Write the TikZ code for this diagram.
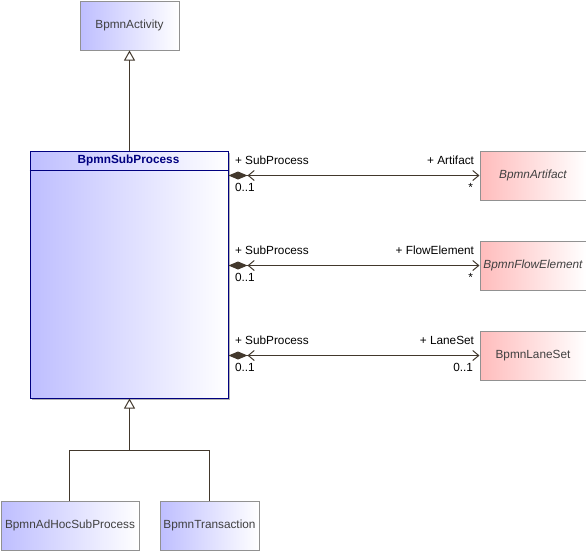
\documentclass[tikz,border=0pt]{standalone}
\usepackage{fontspec}
\setmainfont{Liberation Sans}
\usetikzlibrary{arrows.meta}
\definecolor{cblue}{RGB}{190,190,255}
\definecolor{cred}{RGB}{255,188,188}
\definecolor{bgray}{RGB}{145,145,145}
\definecolor{navyc}{RGB}{0,0,128}
\definecolor{lc}{RGB}{66,56,44}
\definecolor{tgray}{RGB}{64,64,64}
\begin{document}
\begin{tikzpicture}[x=1pt,y=-1pt,
  font=\fontsize{11.8}{14}\selectfont,
  cls/.style={draw=bgray, line width=1pt, left color=cblue, right color=white,
    text=tgray, inner sep=0pt, anchor=north west, minimum height=49pt},
  ext/.style={cls, left color=cred},
  gen/.style={draw=lc, line width=1pt},
  gtip/.style={Triangle[open,length=10pt,width=11pt]},
  assoc/.style={draw=lc, line width=1pt,
    {Diamond[length=19pt,width=8pt]Straight Barb[length=6pt,width=10pt]}-{Straight Barb[length=6pt,width=10pt]}},
  lab/.style={inner sep=0pt, text=black}
]
\useasboundingbox (0,0) rectangle (586,550);

% classes
\node[cls, minimum width=99pt] (act) at (79.5,0.5) {BpmnActivity};
\fill[black!30] (31.5,152.5) rectangle (229.5,399.5);
\node[cls, draw=navyc, minimum width=198pt, minimum height=247pt] (sub) at (29.5,150.5) {};
\node[lab, text=navyc, font=\fontsize{11.8}{14}\selectfont\bfseries] (subt) at (128.5,160.5) {BpmnSubProcess};
\draw[navyc, line width=1pt] ([yshift=-20pt]sub.north west) -- ([yshift=-20pt]sub.north east);

\node[ext, minimum width=106pt] (art) at (479.5,150.5) {\itshape BpmnArtifact};
\node[ext, minimum width=106pt] (flow) at (479.5,240.5) {\itshape BpmnFlowElement};
\node[ext, minimum width=106pt] (lane) at (479.5,330.5) {BpmnLaneSet};

\node[cls, minimum width=138pt] (ahoc) at (0.5,500.5) {BpmnAdHocSubProcess};
\node[cls, minimum width=99pt] (trans) at (159.5,500.5) {BpmnTransaction};

% generalizations
\coordinate (top) at (129.5,100);
\draw[gen, -{Triangle[open,length=10pt,width=11pt]}] (sub.north -| top) -- (act.south -| top);
\coordinate (j) at (129.5,450.5);
\coordinate (ja) at (69.5,450.5);
\coordinate (jt) at (209.5,450.5);
\draw[gen, {Triangle[open,length=10pt,width=11pt]}-] (sub.south -| j) -- (j);
\draw[gen] (j) -- (ja) -- (ahoc.north -| ja);
\draw[gen] (j) -- (jt) -- (trans.north -| jt);

% associations
\coordinate (y1) at (0,175.5);
\coordinate (y2) at (0,265.5);
\coordinate (y3) at (0,355.5);
\draw[assoc] (sub.east |- y1) -- (art.west |- y1)
  node[lab, pos=0, anchor=west, xshift=6pt, yshift=15pt] {+ SubProcess}
  node[lab, pos=0, anchor=west, xshift=6pt, yshift=-12pt] {0..1}
  node[lab, pos=1, anchor=east, xshift=-5pt, yshift=15pt] {+ Artifact}
  node[lab, pos=1, anchor=east, xshift=-6pt, yshift=-12pt] {*};
\draw[assoc] (sub.east |- y2) -- (flow.west |- y2)
  node[lab, pos=0, anchor=west, xshift=6pt, yshift=15pt] {+ SubProcess}
  node[lab, pos=0, anchor=west, xshift=6pt, yshift=-12pt] {0..1}
  node[lab, pos=1, anchor=east, xshift=-5pt, yshift=15pt] {+ FlowElement}
  node[lab, pos=1, anchor=east, xshift=-6pt, yshift=-12pt] {*};
\draw[assoc] (sub.east |- y3) -- (lane.west |- y3)
  node[lab, pos=0, anchor=west, xshift=6pt, yshift=15pt] {+ SubProcess}
  node[lab, pos=0, anchor=west, xshift=6pt, yshift=-12pt] {0..1}
  node[lab, pos=1, anchor=east, xshift=-5pt, yshift=15pt] {+ LaneSet}
  node[lab, pos=1, anchor=east, xshift=-6pt, yshift=-12pt] {0..1};
\end{tikzpicture}
\end{document}
